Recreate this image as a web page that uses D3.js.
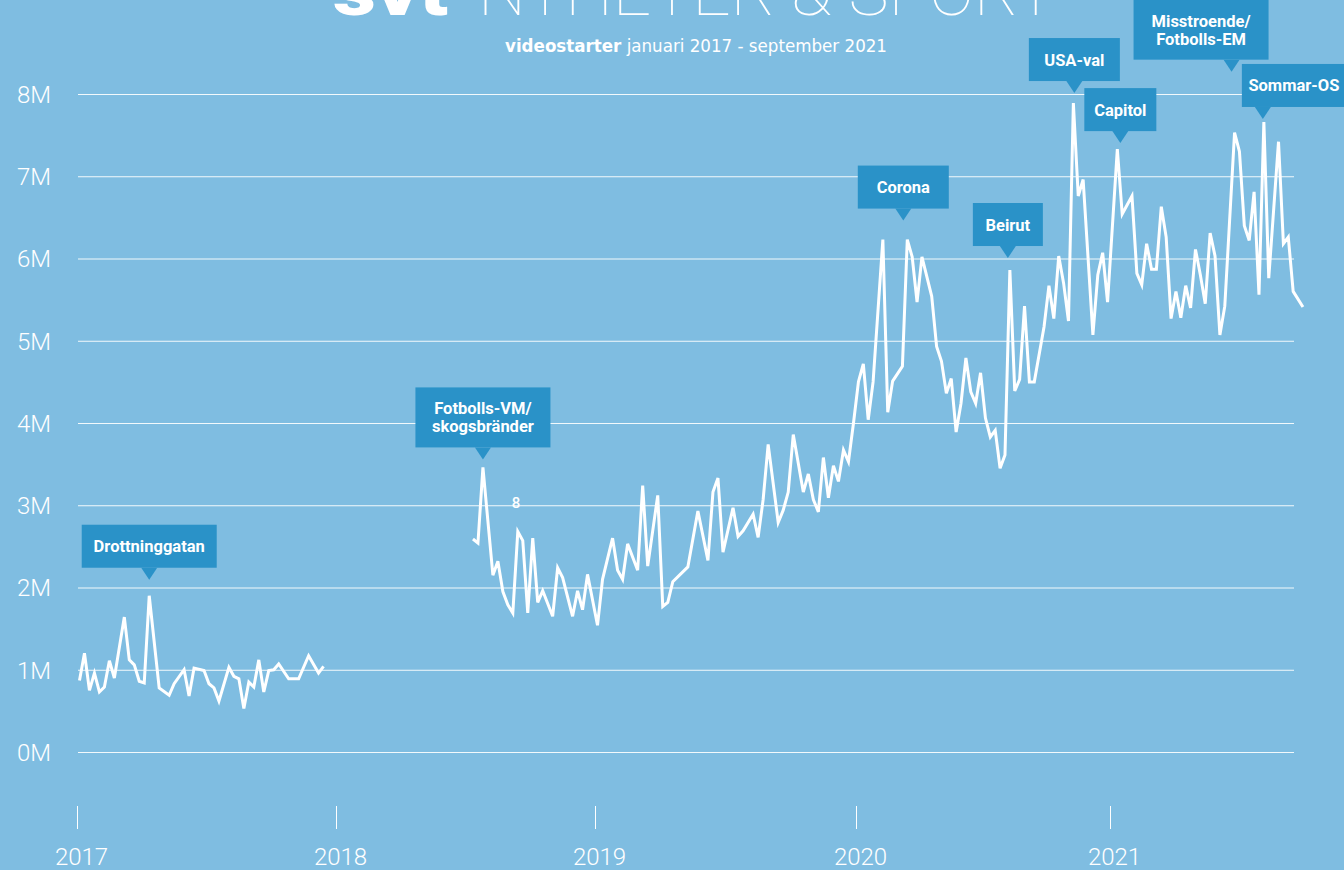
<!DOCTYPE html>
<html>
<head>
<meta charset="utf-8">
<script src="https://cdn.jsdelivr.net/npm/d3@7"></script>
<style>
  html, body { margin: 0; padding: 0; background: #7fbde1; }
  svg { display: block; }
</style>
</head>
<body>
<svg id="chart" width="1344" height="870"></svg>
<script>
// weekly video starts, millions (week number within year)
var weeks2017 = [1,2,3,4,5,6,7,8,10,11,12,13,14,15,17,19,20,22,23,24,26,27,28,29,31,32,33,34,35,36,37,38,39,40,41,43,45,47,49,50];
var views2017 = [0.87,1.20,0.75,0.96,0.73,0.79,1.11,0.90,1.64,1.12,1.06,0.86,0.84,1.90,0.78,0.69,0.83,1.00,0.68,1.02,0.99,0.83,0.78,0.62,1.03,0.92,0.89,0.53,0.85,0.79,1.12,0.73,0.99,1.00,1.07,0.89,0.89,1.17,0.96,1.04];

var weeks2018 = [28,29,30,32,33,34,35,36,37,38,39,40,41,42,44,45,46,48,49,50,51];
var views2018 = [2.59,2.54,3.46,2.15,2.32,1.95,1.79,1.69,2.68,2.57,1.69,2.60,1.82,1.96,1.65,2.24,2.12,1.65,1.96,1.73,2.16];

var weeks2019 = [1,2,4,5,6,7,9,10,11,13,14,15,16,19,21,23,24,25,26,28,29,30,32,33,34,35,37,38,39,40,42,43,44,45,46,47,48,49,50,51,52];
var views2019 = [1.54,2.10,2.60,2.21,2.10,2.53,2.21,3.24,2.26,3.12,1.77,1.82,2.07,2.25,2.93,2.33,3.16,3.33,2.43,2.97,2.62,2.69,2.89,2.61,3.07,3.74,2.79,2.94,3.16,3.86,3.16,3.38,3.07,2.92,3.58,3.09,3.48,3.29,3.67,3.53,4.00];

var weeks2020 = [1,2,3,4,6,7,8,10,11,12,13,14,16,17,18,19,20,21,22,23,24,25,26,27,28,29,30,31,32,33,34,35,36,37,39,40,41,42,43,44,45,46,47,49,50,51,52];
var views2020 = [4.50,4.72,4.04,4.50,6.23,4.13,4.51,4.69,6.23,6.02,5.47,6.02,5.54,4.93,4.75,4.36,4.54,3.89,4.24,4.79,4.38,4.24,4.61,4.06,3.83,3.91,3.45,3.61,5.86,4.39,4.53,5.42,4.50,4.50,5.17,5.67,5.27,6.03,5.70,5.24,7.89,6.76,6.96,5.07,5.80,6.07,5.47];

var weeks2021 = [2,3,5,6,7,8,9,10,11,12,13,14,15,16,17,18,19,20,21,22,23,24,26,27,28,29,30,31,32,33,35,36,37,38,40];
var views2021 = [7.33,6.54,6.76,5.82,5.68,6.18,5.87,5.87,6.63,6.26,5.27,5.60,5.28,5.67,5.40,6.11,5.80,5.45,6.31,6.03,5.07,5.42,7.53,7.30,6.40,6.22,6.81,5.56,7.66,5.76,7.42,6.18,6.26,5.60,5.41];

var yearTicks = [2017, 2018, 2019, 2020, 2021];
var valueTicks = [0, 1, 2, 3, 4, 5, 6, 7, 8];

var eventNames = [["Drottninggatan"], ["Fotbolls-VM/", "skogsbränder"], ["Corona"], ["Beirut"], ["USA-val"], ["Capitol"], ["Misstroende/", "Fotbolls-EM"], ["Sommar-OS"]];
var eventYears = [2017, 2018, 2020, 2020, 2020, 2021, 2021, 2021];
var eventWeeks = [15, 30, 11, 32, 45, 2, 26, 32];

var strayLabel = "8";

// callout placement (pixels)
var calloutLayout = [
    {gap: 16, tipDx: 0,  boxDx: 0,     w: 135},
    {gap: 8,  tipDx: 0,  boxDx: 0,     w: 135},
    {gap: 19, tipDx: -4, boxDx: 0,     w: 91},
    {gap: 12, tipDx: -2, boxDx: 0,     w: 70},
    {gap: 10, tipDx: 1,  boxDx: 0,     w: 91},
    {gap: 6,  tipDx: 3,  boxDx: 0,     w: 72},
    {gap: 61, tipDx: -3, boxDx: -30.5, w: 135},
    {gap: 3,  tipDx: -1, boxDx: 31,    w: 104}
];

var svg = d3.select('#chart');
var W = 1344, H = 870;

svg.append('rect').attr('width', W).attr('height', H).attr('fill', '#7fbde1');

// fractional year -> pixel, one piece per year
var x = d3.scaleLinear()
    .domain([2017, 2018, 2019, 2020, 2021, 2022])
    .range([77, 336, 595, 856, 1110, 1364]);

var y = d3.scaleLinear().domain([0, 8]).range([752, 94]);

var pos = function(year, week){ return year + (week - 0.5) / 52; };

var makeSeries = function(year, weeks, vals){
    return weeks.map(function(w, i){ return {t: pos(year, w), v: vals[i]}; });
};

var line2017 = makeSeries(2017, weeks2017, views2017);
var lineLater = []
    .concat(makeSeries(2018, weeks2018, views2018))
    .concat(makeSeries(2019, weeks2019, views2019))
    .concat(makeSeries(2020, weeks2020, views2020))
    .concat(makeSeries(2021, weeks2021, views2021));

// title, cut off at the top like the original
var title = svg.append('g');
title.append('text')
    .attr('x', 333).attr('y', 15)
    .attr('textLength', 115).attr('lengthAdjust', 'spacingAndGlyphs')
    .style('font-family', 'Roboto, sans-serif').style('font-weight', 900)
    .style('font-size', '66px').attr('fill', '#fff')
    .text('svt');
title.append('text')
    .attr('x', 478).attr('y', 15)
    .attr('textLength', 578).attr('lengthAdjust', 'spacingAndGlyphs')
    .style('font-family', 'Roboto, sans-serif').style('font-weight', 100)
    .style('font-size', '66px').attr('fill', '#fff')
    .text('NYHETER & SPORT');

var sub = svg.append('text')
    .attr('x', 696).attr('y', 52)
    .attr('text-anchor', 'middle')
    .attr('textLength', 382).attr('lengthAdjust', 'spacingAndGlyphs')
    .style('font-family', '"Liberation Sans Narrow", "DejaVu Sans Condensed", sans-serif')
    .style('font-size', '18px').attr('fill', '#fff');
sub.append('tspan').style('font-weight', 700).text('videostarter');
sub.append('tspan').text(' januari 2017 - september 2021');

// gridlines + value labels
var yAxis = d3.axisLeft(y)
    .tickValues(valueTicks)
    .tickSize(-(1294 - 78))
    .tickPadding(0)
    .tickFormat(function(d){ return d + 'M'; });

var gy = svg.append('g').attr('transform', 'translate(78,0)').call(yAxis);
gy.select('.domain').remove();
gy.selectAll('.tick line').attr('stroke', '#fff').attr('stroke-width', 1).attr('opacity', 0.9);
gy.selectAll('.tick text')
    .attr('x', 17 - 78).attr('text-anchor', 'start').attr('dy', '0.35em')
    .attr('fill', '#fff')
    .style('font-family', 'Roboto, sans-serif').style('font-weight', 300)
    .style('font-size', '24px');

// year axis
var xAxis = d3.axisBottom(x)
    .tickValues(yearTicks)
    .tickSize(23)
    .tickPadding(0)
    .tickFormat(d3.format('d'));

var gx = svg.append('g').attr('transform', 'translate(0,806)').call(xAxis);
gx.select('.domain').remove();
gx.selectAll('.tick line').attr('stroke', '#fff').attr('stroke-width', 1);
gx.selectAll('.tick text')
    .attr('y', 59).attr('dy', 0).attr('dx', 4)
    .attr('fill', '#fff')
    .style('font-family', 'Roboto, sans-serif').style('font-weight', 300)
    .style('font-size', '24px');

// the series
var line = d3.line()
    .x(function(d){ return x(d.t); })
    .y(function(d){ return y(d.v); });

svg.selectAll('path.series')
    .data([line2017, lineLater])
    .enter()
    .append('path')
    .attr('class', 'series')
    .attr('d', line)
    .attr('fill', 'none')
    .attr('stroke', '#fff')
    .attr('stroke-width', 3)
    .attr('stroke-linejoin', 'miter');

svg.append('text')
    .attr('x', 516).attr('y', 508)
    .attr('text-anchor', 'middle')
    .attr('fill', '#fff')
    .style('font-family', 'Roboto, sans-serif').style('font-weight', 500)
    .style('font-size', '15px')
    .text(strayLabel);

// callouts
var findValue = function(year, week){
    var all = line2017.concat(lineLater);
    var t = pos(year, week);
    for (var i = 0; i < all.length; i++) {
        if (Math.abs(all[i].t - t) < 1e-9) return all[i].v;
    }
    return 0;
};

eventNames.forEach(function(lines, i){
    var lay = calloutLayout[i];
    var tipX = x(pos(eventYears[i], eventWeeks[i])) + lay.tipDx;
    var tipY = y(findValue(eventYears[i], eventWeeks[i])) - lay.gap;
    var boxH = lines.length > 1 ? 60 : 43;
    var boxBottom = tipY - 12;
    var cx = tipX + lay.boxDx;
    var g = svg.append('g').attr('class', 'callout');

    g.append('rect')
        .attr('x', cx - lay.w / 2).attr('y', boxBottom - boxH)
        .attr('width', lay.w).attr('height', boxH)
        .attr('fill', '#2a92c8');
    g.append('path')
        .attr('d', 'M' + (tipX - 8) + ',' + boxBottom + 'L' + tipX + ',' + tipY + 'L' + (tipX + 8) + ',' + boxBottom + 'Z')
        .attr('fill', '#2a92c8');

    var midY = boxBottom - boxH / 2;
    g.selectAll('text')
        .data(lines)
        .enter()
        .append('text')
        .attr('x', cx)
        .attr('y', function(d, j){ return midY + 6 + (j - (lines.length - 1) / 2) * 18; })
        .attr('text-anchor', 'middle')
        .attr('fill', '#fff')
        .style('font-family', 'Roboto, sans-serif').style('font-weight', 700)
        .style('font-size', '16.5px')
        .text(function(d){ return d; });
});
</script>
</body>
</html>
